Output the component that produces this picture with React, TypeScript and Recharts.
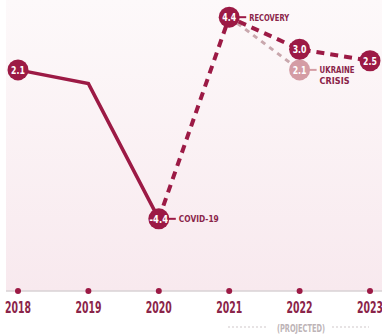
import React from "react";
import { CartesianGrid, Line, LineChart, XAxis, YAxis } from "recharts";

const years = ["2018", "2019", "2020", "2021", "2022", "2023"];
const actual = [2.1, 1.5, -4.4, null, null, null];
const projected = [null, null, -4.4, 4.4, 3.0, 2.5];
const ukraine = [null, null, null, 4.4, 2.1, null];

const actualNotes: Record<string, string[]> = { "2018": [], "2020": ["COVID-19"] };
const projectedNotes: Record<string, string[]> = { "2021": ["RECOVERY"], "2022": [], "2023": [] };
const ukraineNotes: Record<string, string[]> = { "2022": ["UKRAINE", "CRISIS"] };

const data = years.map((year, i) => ({
  year,
  actual: actual[i],
  projected: projected[i],
  ukraine: ukraine[i]
}));

const FONT = "'DejaVu Sans Condensed', 'Liberation Sans Narrow', sans-serif";
const RED = "#9c1a45";
const PALE = "#d49ca4";
const TEXT = "#8a2449";

function makeDot(notes: Record<string, string[]>, fill: string, key: string) {
  return (props: any) => {
    const { cx, cy, payload } = props;
    const lines = notes[payload.year];
    if (lines === undefined || payload[key] == null) return <g key={`${key}-${payload.year}`} />;
    const label = payload[key].toFixed(1);
    return (
      <g key={`${key}-${payload.year}`}>
        {lines.length > 0 && (
          <line x1={cx + 9} y1={cy} x2={cx + 17} y2={cy} stroke={fill} strokeWidth={2} />
        )}
        <circle cx={cx} cy={cy} r={10.5} fill={fill} />
        <text
          x={cx}
          y={cy + 4}
          textAnchor="middle"
          fill="#fff"
          fontFamily={FONT}
          fontWeight="bold"
          fontSize={11}
          textLength={label.length * 4.6}
          lengthAdjust="spacingAndGlyphs"
        >
          {label}
        </text>
        {lines.map((t, i) => (
          <text
            key={t}
            x={cx + 20}
            y={cy + 3.5 + i * 11}
            fill={TEXT}
            fontFamily={FONT}
            fontWeight="bold"
            fontSize={9.5}
            textLength={t.length * 5}
            lengthAdjust="spacingAndGlyphs"
          >
            {t}
          </text>
        ))}
      </g>
    );
  };
}

function YearTick(props: any) {
  const { x, y, payload } = props;
  return (
    <g>
      <circle cx={x} cy={y} r={3} fill={RED} />
      <text
        x={x}
        y={y + 22}
        textAnchor="middle"
        fill={TEXT}
        fontFamily={FONT}
        fontWeight="bold"
        fontSize={16}
        textLength={26}
        lengthAdjust="spacingAndGlyphs"
      >
        {payload.value}
      </text>
    </g>
  );
}

export default function App() {
  return (
    <div style={{ position: "absolute", left: 0, top: 0, width: 382, height: 335, background: "#fff" }}>
      <LineChart width={382} height={335} data={data} margin={{ top: 0, right: 0, bottom: 0, left: 6 }}>
        <defs>
          <linearGradient id="bgFade" x1="0" y1="0" x2="0" y2="1">
            <stop offset="0%" stopColor="#fdf9fa" />
            <stop offset="100%" stopColor="#f8e9ee" />
          </linearGradient>
        </defs>
        <CartesianGrid horizontal={false} vertical={false} fill="url(#bgFade)" />
        <XAxis
          dataKey="year"
          height={44}
          padding={{ left: 12, right: 12 }}
          axisLine={{ stroke: "#d9d2d4", strokeWidth: 1.5 }}
          tickLine={false}
          tickSize={0}
          tickMargin={0}
          tick={<YearTick />}
          interval={0}
        />
        <YAxis hide domain={[-7.55, 5.15]} />
        <Line
          dataKey="ukraine"
          stroke="#c9a7ad"
          strokeWidth={3}
          strokeDasharray="5 5"
          dot={makeDot(ukraineNotes, PALE, "ukraine")}
          activeDot={false}
          isAnimationActive={false}
        />
        <Line
          dataKey="projected"
          stroke={RED}
          strokeWidth={4}
          strokeDasharray="8 6"
          dot={makeDot(projectedNotes, RED, "projected")}
          activeDot={false}
          isAnimationActive={false}
        />
        <Line
          dataKey="actual"
          stroke={RED}
          strokeWidth={3.5}
          dot={makeDot(actualNotes, RED, "actual")}
          activeDot={false}
          isAnimationActive={false}
        />
      </LineChart>
      <svg width={382} height={335} style={{ position: "absolute", left: 0, top: 0, pointerEvents: "none" }}>
        <line x1={228} y1={327} x2={268} y2={327} stroke="#cfc7c9" strokeWidth={1.2} strokeDasharray="2 2" />
        <line x1={332} y1={327} x2={369} y2={327} stroke="#cfc7c9" strokeWidth={1.2} strokeDasharray="2 2" />
        <text
          x={301}
          y={331.5}
          textAnchor="middle"
          fill="#bdb4b7"
          fontFamily={FONT}
          fontWeight="bold"
          fontSize={11}
          textLength={48}
          lengthAdjust="spacingAndGlyphs"
        >
          (PROJECTED)
        </text>
      </svg>
    </div>
  );
}
